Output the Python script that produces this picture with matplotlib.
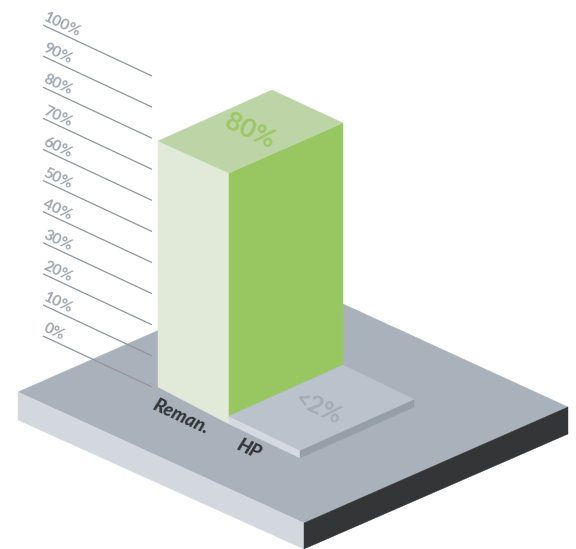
import matplotlib
matplotlib.use("Agg")
import matplotlib.pyplot as plt
from matplotlib.patches import Polygon

categories = ["Reman.", "HP"]
values = [80, 2]
value_labels = ["80%", "<2%"]
tick_values = [0, 10, 20, 30, 40, 50, 60, 70, 80, 90, 100]
tick_labels = ["0%", "10%", "20%", "30%", "40%", "50%", "60%", "70%", "80%", "90%", "100%"]

SCALE = 3.075
plt.rcParams["font.family"] = ["Lato", "DejaVu Sans"]
fig = plt.figure(figsize=(5.76, 5.49), dpi=100)
ax = fig.add_axes([0, 0, 1, 1])
ax.set_xlim(0, 576)
ax.set_ylim(549, 0)
ax.axis("off")


def poly(pts, color, z):
    ax.add_patch(Polygon(pts, closed=True, facecolor=color, edgecolor=color, linewidth=0.3, zorder=z))


# platform
poly([(18, 392), (282, 276), (568, 407), (304, 523)], "#a9b1bb", 1)
poly([(18, 392), (304, 523), (304, 549), (18, 420)], "#d3d8df", 1)
poly([(304, 523), (568, 407), (568, 434), (304, 549)], "#333537", 1)

# gridlines and labels
for v, lab in zip(tick_values, tick_labels):
    y0 = 336 - v * 3.11
    ax.plot([43, 152], [y0, y0 + 51], color="#8f969f", lw=0.9, zorder=2, solid_capstyle="butt")
    ax.text(41, y0 - 2, lab, rotation=-25, rotation_mode="anchor", ha="left", va="bottom",
            fontsize=11, fontweight="bold", color="#9fa7b1", zorder=2)

# tall bar (Reman.)
h = values[0] * SCALE
l, f, r, b = (158, 387), (229, 419), (343, 369), (272, 336)
L, F, R, B = [(p[0], p[1] - h) for p in (l, f, r, b)]
poly([l, (229, 424), F, L], "#e1e9d9", 3)
poly([(229, 416), (343, 365), R, F], "#98c660", 3)
poly([L, B, R, F], "#bdd4a6", 3)
ax.text(250, 131, value_labels[0], rotation=-25, rotation_mode="anchor", ha="center", va="center",
        fontsize=19, fontweight="bold", color="#9cc765", zorder=4)

# low bar (HP)
h2 = values[1] * SCALE * 1.25
f2, r2, n2 = (300, 458), (414, 407), (229, 424)
t_f, t_r, t_n = [(p[0], p[1] - h2) for p in (f2, r2, n2)]
t_b = (343, 365)
poly([n2, f2, t_f, (229, 416)], "#d5dae2", 3)
poly([f2, r2, t_r, t_f], "#959fa8", 3)
poly([(229, 416), t_f, t_r, t_b], "#bac2cc", 3)
ax.text(318, 408, value_labels[1], rotation=-25, rotation_mode="anchor", ha="center", va="center",
        fontsize=18, fontweight="bold", color="#a3abb5", zorder=4)

# category labels
ax.text(181, 417, categories[0], rotation=-25, rotation_mode="anchor", ha="center", va="center",
        fontsize=13.5, fontweight=900, style="italic", color="#333537", zorder=4)
ax.text(249, 449, categories[1], rotation=-25, rotation_mode="anchor", ha="center", va="center",
        fontsize=13.5, fontweight=900, style="italic", color="#333537", zorder=4)

fig.savefig("out.png", dpi=100, facecolor="white")
